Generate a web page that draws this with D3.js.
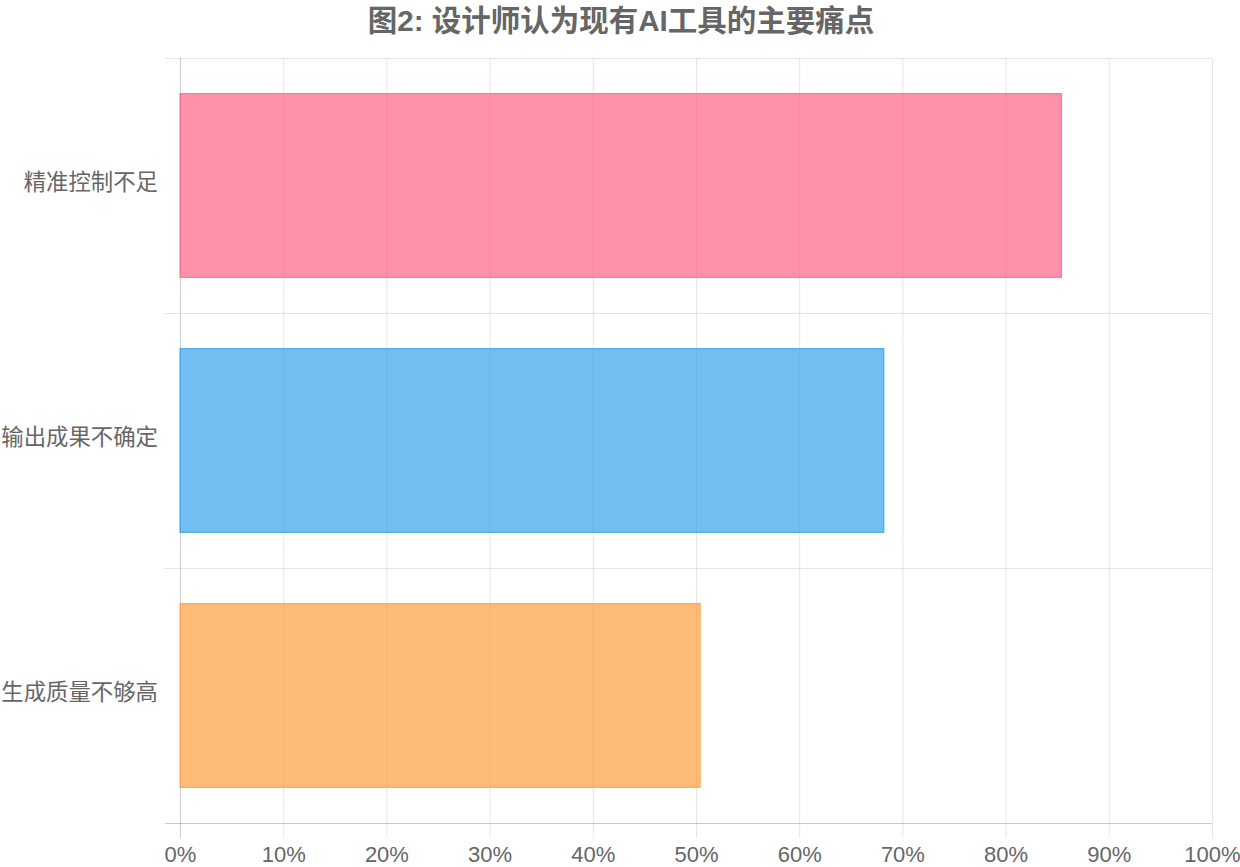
<!DOCTYPE html>
<html>
<head>
<meta charset="utf-8">
<script src="https://cdn.jsdelivr.net/npm/d3@7"></script>
<style>
  body { margin: 0; background: #fff; }
  svg { display: block; font-family: "Liberation Sans", Arial, "Noto Sans CJK SC", sans-serif; }
</style>
</head>
<body>
<svg width="1240" height="867"></svg>
<script>
// data
const categories = ["精准控制不足", "输出成果不确定", "生成质量不够高"];
const values = [0.854, 0.682, 0.504];
const fills = ["rgba(255,99,132,0.7)", "rgba(54,162,235,0.7)", "rgba(255,159,64,0.7)"];
const borders = ["rgb(255,99,132)", "rgb(54,162,235)", "rgb(255,159,64)"];
const xTicks = [0, 0.1, 0.2, 0.3, 0.4, 0.5, 0.6, 0.7, 0.8, 0.9, 1];
const title = "图2: 设计师认为现有AI工具的主要痛点";

const svg = d3.select("svg");
const plotL = 180, plotR = 1212, plotT = 58, plotB = 823;
const tick = 15;

const x = d3.scaleLinear().domain([0, 1]).range([plotL, plotR]);
const y = d3.scaleBand().domain(categories).range([plotT, plotB]).padding(0);

// title
svg.append("text")
    .attr("x", 621)
    .attr("y", 20)
    .attr("text-anchor", "middle")
    .attr("dominant-baseline", "central")
    .attr("font-size", "29.5px")
    .attr("font-weight", "bold")
    .attr("fill", "#666")
    .text(title);

// vertical grid (with ticks going down past axis)
svg.append("g").selectAll("line").data(xTicks).enter().append("line")
    .attr("x1", d => x(d) + 0.5).attr("x2", d => x(d) + 0.5)
    .attr("y1", plotT).attr("y2", plotB + tick)
    .attr("stroke", d => d === 0 ? "rgba(0,0,0,0.2)" : "rgba(0,0,0,0.1)")
    .attr("stroke-width", 1);

// horizontal band lines (with ticks going left past axis)
const bounds = [plotT].concat(categories.map(c => y(c) + y.bandwidth()));
svg.append("g").selectAll("line").data(bounds).enter().append("line")
    .attr("x1", plotL - tick).attr("x2", plotR)
    .attr("y1", d => d + 0.5).attr("y2", d => d + 0.5)
    .attr("stroke", d => d === plotB ? "rgba(0,0,0,0.2)" : "rgba(0,0,0,0.1)")
    .attr("stroke-width", 1);

// bars
const barH = y.bandwidth() * 0.72;
svg.append("g").selectAll("rect").data(categories).enter().append("rect")
    .attr("x", x(0))
    .attr("y", d => y(d) + (y.bandwidth() - barH) / 2)
    .attr("width", (d, i) => x(values[i]) - x(0))
    .attr("height", barH)
    .attr("fill", (d, i) => fills[i])
    .attr("stroke", (d, i) => borders[i])
    .attr("stroke-width", 1);

// x axis labels
const xAxis = d3.axisBottom(x).tickValues(xTicks).tickFormat(d3.format(".0%")).tickSize(0).tickPadding(0);
const gx = svg.append("g").attr("transform", `translate(0,${plotB + 23})`).call(xAxis);
gx.select(".domain").remove();
gx.selectAll("text")
    .attr("font-size", "22px")
    .attr("fill", "#666")
    .attr("font-family", "Liberation Sans, Arial, sans-serif");

// y axis labels
const yAxis = d3.axisLeft(y).tickSize(0).tickPadding(0);
const gy = svg.append("g").attr("transform", `translate(${plotL - 22},0)`).call(yAxis);
gy.select(".domain").remove();
gy.selectAll("text")
    .attr("font-size", "22.4px")
    .attr("fill", "#666")
    .attr("font-family", "Noto Sans CJK SC, sans-serif")
    .attr("dy", "0.32em")
    .attr("y", -3);
</script>
</body>
</html>
